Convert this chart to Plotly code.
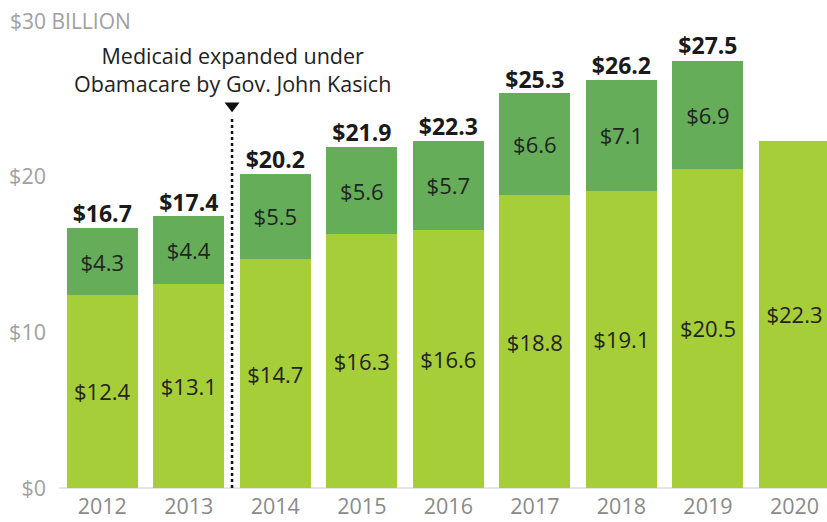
import plotly.graph_objects as go

years = ["2012", "2013", "2014", "2015", "2016", "2017", "2018", "2019", "2020"]
base_vals = [12.4, 13.1, 14.7, 16.3, 16.6, 18.8, 19.1, 20.5, 22.3]
expansion_vals = [4.3, 4.4, 5.5, 5.6, 5.7, 6.6, 7.1, 6.9, None]
totals = [16.7, 17.4, 20.2, 21.9, 22.3, 25.3, 26.2, 27.5, None]
y_ticks = [0, 10, 20]
y_ticklabels = ["$0", "$10", "$20"]

FONT = "Open Sans"
x_idx = list(range(len(years)))

fig = go.Figure()
fig.add_trace(go.Bar(
    x=x_idx, y=base_vals, marker_color="#A6CE39", marker_line_width=0,
    text=[f"${v:.1f}" for v in base_vals], textposition="inside",
    insidetextanchor="middle", textangle=0, cliponaxis=False,
    textfont=dict(family=FONT, size=22, color="#222222"),
    hoverinfo="skip"))
fig.add_trace(go.Bar(
    x=x_idx, y=expansion_vals, marker_color="#66AD5A", marker_line_width=0,
    text=[f"${v:.1f}" if v is not None else "" for v in expansion_vals],
    textposition="inside", insidetextanchor="middle", textangle=0,
    textfont=dict(family=FONT, size=22, color="#222222"),
    hoverinfo="skip"))
tx = [i for i, t in zip(x_idx, totals) if t is not None]
ty = [t for t in totals if t is not None]
fig.add_trace(go.Scatter(
    x=tx, y=ty, mode="text", text=[f"<b>${t:.1f}</b>" for t in ty],
    textposition="top center",
    textfont=dict(family=FONT, size=23, color="#1a1a1a"),
    hoverinfo="skip"))
# marker triangle
fig.add_trace(go.Scatter(
    x=[1.5], y=[24.55], mode="markers",
    marker=dict(symbol="triangle-down", size=13, color="#111111"),
    hoverinfo="skip"))
fig.add_shape(type="line", x0=1.5, x1=1.5, y0=0, y1=23.9, xref="x", yref="y",
              line=dict(color="#111111", width=2.5, dash="dot"))
fig.add_annotation(x=1.5, y=26.9, xref="x", yref="y", showarrow=False,
                   text="Medicaid expanded under<br>Obamacare by Gov. John Kasich",
                   font=dict(family=FONT, size=21.5, color="#222222"), align="center")
fig.add_annotation(x=0, y=30, xref="paper", yref="y", xanchor="left", yanchor="middle",
                   xshift=-51, showarrow=False, text="$30 BILLION",
                   font=dict(family=FONT, size=21, color="#a0a0a0"))

fig.update_layout(
    width=827, height=522, barmode="stack", bargap=0.18,
    margin=dict(l=59, r=0, t=21, b=34),
    plot_bgcolor="white", paper_bgcolor="white", showlegend=False,
    xaxis=dict(range=[-0.5, 8.376], tickvals=x_idx, ticktext=years,
               showgrid=False, zeroline=False, showline=False, ticks="",
               ticklabelstandoff=3,
               tickfont=dict(family=FONT, size=21.5, color="#8a8a8a")),
    yaxis=dict(range=[0, 30], tickvals=y_ticks, ticktext=y_ticklabels,
               showgrid=False, zeroline=True, zerolinecolor="#e6e6e6", zerolinewidth=2,
               showline=False, ticks="", ticklabelstandoff=12,
               tickfont=dict(family=FONT, size=21.5, color="#a0a0a0")),
)
fig.write_html("out.html", config={"displayModeBar": False},
               post_script="document.body.style.margin='0';document.body.style.overflow='hidden';")
